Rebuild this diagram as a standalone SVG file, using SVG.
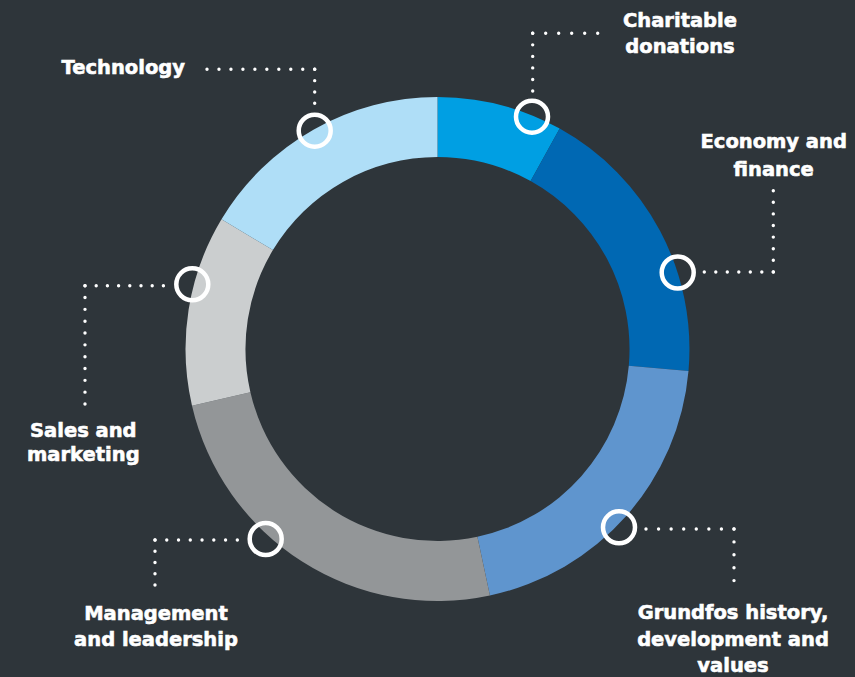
<svg xmlns="http://www.w3.org/2000/svg" width="855" height="677" viewBox="0 0 855 677">
<style>
.lbl{font-family:"DejaVu Sans","Liberation Sans",sans-serif;font-weight:bold;font-size:19.5px;fill:#ffffff;stroke:#ffffff;stroke-width:0.6;text-anchor:middle}
.dot{stroke:#ffffff;stroke-width:3.4;stroke-linecap:round;fill:none}
.mk{fill:none;stroke:#ffffff;stroke-width:4.5}
</style>
<rect width="855" height="677" fill="#2e353a"/>
<g id="ring">
<path id="seg-charitable" fill="#009fe3" d="M437.5 97 A252 252 0 0 1 559.7 128.6 L530.6 181.1 A192 192 0 0 0 437.5 157 Z"/>
<path id="seg-economy" fill="#0068b3" d="M559.7 128.6 A252 252 0 0 1 688.5 371 L628.8 365.7 A192 192 0 0 0 530.6 181.1 Z"/>
<path id="seg-grundfos" fill="#5f95ce" d="M688.5 371 A252 252 0 0 1 489.9 595.5 L477.4 536.8 A192 192 0 0 0 628.8 365.7 Z"/>
<path id="seg-management" fill="#939698" d="M489.9 595.5 A252 252 0 0 1 192 405.7 L250.4 392.2 A192 192 0 0 0 477.4 536.8 Z"/>
<path id="seg-sales" fill="#cbcecf" d="M192 405.7 A252 252 0 0 1 221.5 219.2 L272.9 250.1 A192 192 0 0 0 250.4 392.2 Z"/>
<path id="seg-technology" fill="#afdef7" d="M221.5 219.2 A252 252 0 0 1 437.5 97 L437.5 157 A192 192 0 0 0 272.9 250.1 Z"/>
</g>
<g id="connectors">
<line class="dot" stroke-dasharray="0 11.97" x1="207" y1="69.3" x2="314.9" y2="69.3"/>
<line class="dot" stroke-dasharray="0 11.33" x1="314.7" y1="69.3" x2="314.7" y2="103.5"/>
<line class="dot" stroke-dasharray="0 13" x1="532.7" y1="33.3" x2="597.9" y2="33.3"/>
<line class="dot" stroke-dasharray="0 11.54" x1="532.7" y1="33.3" x2="532.7" y2="91.2"/>
<line class="dot" stroke-dasharray="0 11.5" x1="704.3" y1="272" x2="773.5" y2="272"/>
<line class="dot" stroke-dasharray="0 11.6" x1="773.3" y1="190.7" x2="773.3" y2="272.2"/>
<line class="dot" stroke-dasharray="0 12.57" x1="646" y1="529" x2="734.2" y2="529"/>
<line class="dot" stroke-dasharray="0 12.9" x1="734" y1="529" x2="734" y2="580.8"/>
<line class="dot" stroke-dasharray="0 11.76" x1="155" y1="540" x2="237.5" y2="540"/>
<line class="dot" stroke-dasharray="0 11.25" x1="155" y1="540" x2="155" y2="585.2"/>
<line class="dot" stroke-dasharray="0 11.2" x1="85" y1="285.7" x2="163.6" y2="285.7"/>
<line class="dot" stroke-dasharray="0 11.83" x1="85" y1="285.7" x2="85" y2="404.2"/>
</g>
<g id="node-charitable">
<circle class="mk" cx="532" cy="116.7" r="16"/>
<text class="lbl" x="680" y="26.7">Charitable</text>
<text class="lbl" x="680" y="52.7">donations</text>
</g>
<g id="node-economy">
<circle class="mk" cx="677.7" cy="272.5" r="16"/>
<text class="lbl" x="773.7" y="148.3">Economy and</text>
<text class="lbl" x="773.7" y="175.5">finance</text>
</g>
<g id="node-grundfos">
<circle class="mk" cx="619" cy="527.3" r="16"/>
<text class="lbl" x="733" y="619.3">Grundfos history,</text>
<text class="lbl" x="733" y="646">development and</text>
<text class="lbl" x="733" y="671.7">values</text>
</g>
<g id="node-management">
<circle class="mk" cx="265.7" cy="539" r="16"/>
<text class="lbl" x="156" y="620">Management</text>
<text class="lbl" x="156" y="645.7">and leadership</text>
</g>
<g id="node-sales">
<circle class="mk" cx="192.3" cy="284.3" r="16"/>
<text class="lbl" x="83.3" y="436.7">Sales and</text>
<text class="lbl" x="83.3" y="461">marketing</text>
</g>
<g id="node-technology">
<circle class="mk" cx="314.7" cy="130.7" r="16"/>
<text class="lbl" x="123.3" y="74">Technology</text>
</g>
</svg>
